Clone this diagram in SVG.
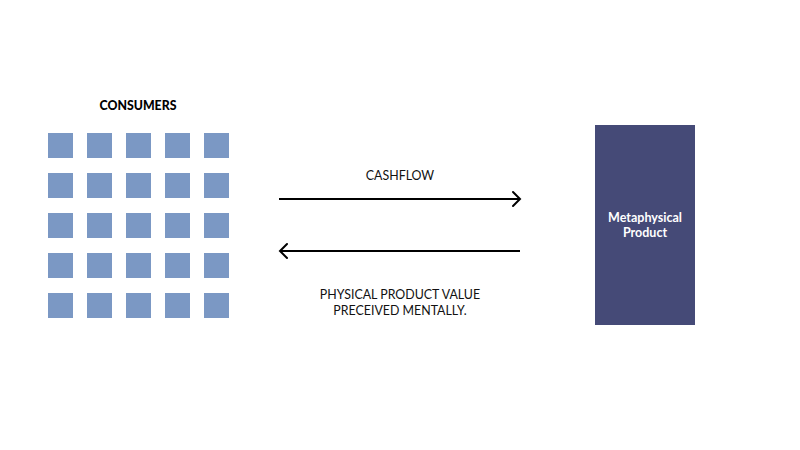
<svg xmlns="http://www.w3.org/2000/svg" width="800" height="450" viewBox="0 0 800 450">
<defs>
<style>
.sq{fill:#7b98c4}
.lbl{font-family:"Lato","Liberation Sans",sans-serif;font-size:12.4px;fill:#111;text-anchor:middle}
.ttl{font-family:"Lato","Liberation Sans",sans-serif;font-size:12.3px;font-weight:900;fill:#000;text-anchor:middle}
.conn{stroke:#000;stroke-width:2;fill:none}
.head{stroke:#000;stroke-width:2;fill:none;stroke-linecap:round;stroke-linejoin:miter}
.prod{fill:#454a77}
.ptxt{font-family:"Lato","Liberation Sans",sans-serif;font-size:12.5px;font-weight:700;fill:#fff;text-anchor:middle}
</style>
<g id="sqd"><rect class="sq" width="25" height="25"/></g>
</defs>
<rect width="800" height="450" fill="#fff"/>
<g id="consumers">
<text class="ttl" x="138" y="110">CONSUMERS</text>
<g transform="translate(48,133)">
<use href="#sqd" x="0" y="0"/><use href="#sqd" x="39" y="0"/><use href="#sqd" x="78" y="0"/><use href="#sqd" x="117" y="0"/><use href="#sqd" x="156" y="0"/>
<use href="#sqd" x="0" y="40"/><use href="#sqd" x="39" y="40"/><use href="#sqd" x="78" y="40"/><use href="#sqd" x="117" y="40"/><use href="#sqd" x="156" y="40"/>
<use href="#sqd" x="0" y="80"/><use href="#sqd" x="39" y="80"/><use href="#sqd" x="78" y="80"/><use href="#sqd" x="117" y="80"/><use href="#sqd" x="156" y="80"/>
<use href="#sqd" x="0" y="120"/><use href="#sqd" x="39" y="120"/><use href="#sqd" x="78" y="120"/><use href="#sqd" x="117" y="120"/><use href="#sqd" x="156" y="120"/>
<use href="#sqd" x="0" y="160"/><use href="#sqd" x="39" y="160"/><use href="#sqd" x="78" y="160"/><use href="#sqd" x="117" y="160"/><use href="#sqd" x="156" y="160"/>
</g>
</g>
<g id="product">
<rect class="prod" x="595" y="125" width="100" height="200"/>
<text class="ptxt" x="645" y="222">Metaphysical</text>
<text class="ptxt" x="645" y="237">Product</text>
</g>
<g id="connectors">
<line class="conn" x1="279" y1="199" x2="520" y2="199"/>
<polyline class="head" points="513,192 520,199 513,206"/>
<line class="conn" x1="280" y1="251" x2="520" y2="251"/>
<polyline class="head" points="287,244 280,251 287,258"/>
<text class="lbl" x="400" y="180">CASHFLOW</text>
<text class="lbl" x="400" y="299">PHYSICAL PRODUCT VALUE</text>
<text class="lbl" x="400" y="315">PRECEIVED MENTALLY.</text>
</g>
</svg>
